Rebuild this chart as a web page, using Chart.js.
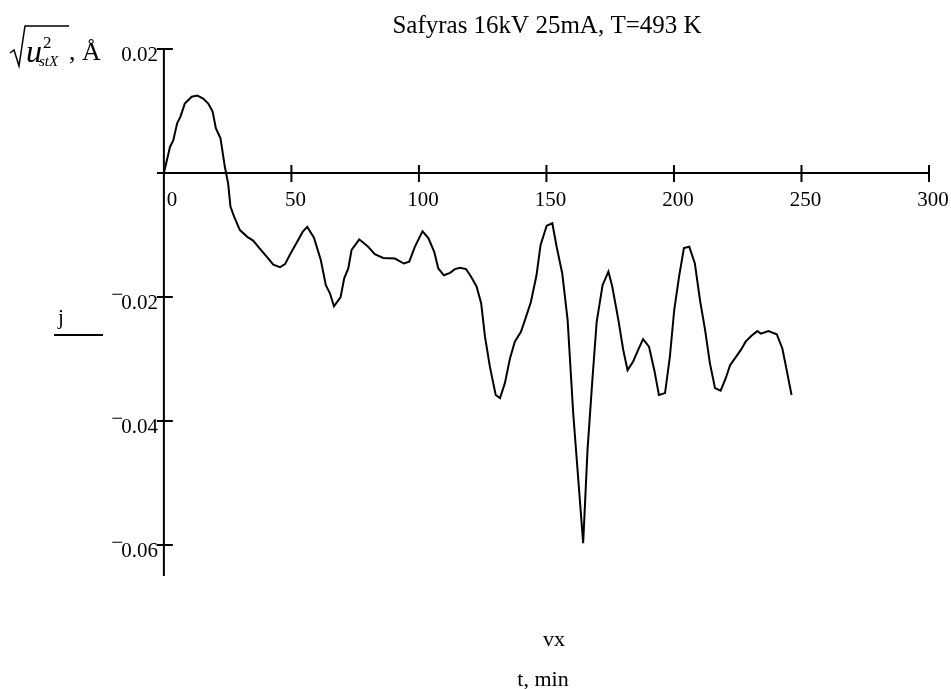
<!DOCTYPE html>
<html>
<head>
<meta charset="utf-8">
<script src="https://cdn.jsdelivr.net/npm/chart.js@4.4.0/dist/chart.umd.min.js"></script>
<style>
html,body{margin:0;padding:0;background:#fff;}
#wrap{width:951px;height:689px;position:relative;}
</style>
</head>
<body>
<div id="wrap"><canvas id="c"></canvas></div>
<script>
// ---- data ----
const timeMin = [0, 2.4, 3.7, 5.2, 6.5, 8.2, 10.9, 13.1, 15.4, 17.4, 19.1, 20.4, 22.2, 23.9, 25.2, 26.1, 27.5, 29.8, 32.7, 35.0, 37.6, 40.3, 42.9, 45.5, 47.5, 49.4, 52.0, 54.4, 56.2, 58.8, 61.5, 63.5, 65.1, 66.7, 69.3, 70.7, 72.3, 73.6, 76.6, 80.1, 82.7, 86.0, 90.6, 94.1, 96.2, 98.4, 101.4, 103.7, 106.0, 107.6, 109.8, 112.2, 114.1, 116.1, 118.5, 120.4, 122.6, 124.4, 125.9, 127.8, 130.1, 131.8, 133.7, 135.7, 137.6, 140.0, 141.6, 143.9, 146.1, 147.7, 150.1, 152.3, 154.0, 156.2, 158.3, 160.5, 162.7, 164.4, 166.1, 168.0, 169.7, 172.0, 174.3, 175.8, 178.2, 180.1, 181.8, 184.0, 186.0, 187.9, 190.2, 192.3, 194.1, 196.5, 198.4, 200.1, 202.0, 203.9, 206.0, 208.2, 210.2, 212.2, 214.1, 216.1, 218.3, 220.3, 222.0, 223.9, 226.3, 228.1, 230.5, 232.7, 234.1, 237.0, 240.3, 242.5, 244.2, 246.1];
const rmsU = [0, 0.0042, 0.0053, 0.0080, 0.0091, 0.0112, 0.0123, 0.0125, 0.0120, 0.0112, 0.0099, 0.0072, 0.0056, 0.0010, -0.0017, -0.0054, -0.0070, -0.0092, -0.0103, -0.0109, -0.0122, -0.0135, -0.0148, -0.0152, -0.0147, -0.0132, -0.0113, -0.0095, -0.0087, -0.0104, -0.0140, -0.0181, -0.0194, -0.0215, -0.0200, -0.0170, -0.0154, -0.0124, -0.0107, -0.0119, -0.0131, -0.0137, -0.0138, -0.0146, -0.0143, -0.0119, -0.0094, -0.0105, -0.0127, -0.0154, -0.0165, -0.0161, -0.0155, -0.0153, -0.0155, -0.0167, -0.0183, -0.0210, -0.0264, -0.0312, -0.0358, -0.0363, -0.0339, -0.0299, -0.0272, -0.0256, -0.0237, -0.0208, -0.0165, -0.0116, -0.0085, -0.0081, -0.0119, -0.0162, -0.0237, -0.0388, -0.0506, -0.0597, -0.0447, -0.0334, -0.0240, -0.0181, -0.0159, -0.0183, -0.0237, -0.0285, -0.0318, -0.0304, -0.0285, -0.0268, -0.0280, -0.0318, -0.0358, -0.0355, -0.0296, -0.0221, -0.0167, -0.0121, -0.0119, -0.0146, -0.0205, -0.0253, -0.0307, -0.0347, -0.0351, -0.0331, -0.0310, -0.0299, -0.0285, -0.0272, -0.0262, -0.0255, -0.0259, -0.0255, -0.0260, -0.0283, -0.0318, -0.0358];
const xTicks = [0, 50, 100, 150, 200, 250, 300];
const yTicks = [0.02, -0.02, -0.04, -0.06];
const yTickLabels = ['0.02', '−0.02', '−0.04', '−0.06'];
const titleText = 'Safyras 16kV 25mA, T=493 K';

const SERIF = '"Liberation Serif", "Times New Roman", serif';

const axesPlugin = {
  id: 'mathcadAxes',
  beforeDatasetsDraw(chart) {
    const {ctx, scales: {x, y}} = chart;
    const x0 = x.getPixelForValue(0), y0 = y.getPixelForValue(0);
    ctx.save();
    ctx.strokeStyle = '#000';
    ctx.lineWidth = 2;
    ctx.beginPath();
    ctx.moveTo(x.left, y0); ctx.lineTo(x.getPixelForValue(300), y0);
    ctx.moveTo(x0, y.top); ctx.lineTo(x0, y.bottom);
    xTicks.forEach(v => { const px = x.getPixelForValue(v); ctx.moveTo(px, y0 - 8); ctx.lineTo(px, y0 + 9); });
    yTicks.forEach(v => { const py = y.getPixelForValue(v); ctx.moveTo(x0 - 7, py); ctx.lineTo(x0 + 9, py); });
    ctx.stroke();
    ctx.restore();
  },
  afterDraw(chart) {
    const {ctx, scales: {x, y}} = chart;
    const x0 = x.getPixelForValue(0), y0 = y.getPixelForValue(0);
    ctx.save();
    ctx.fillStyle = '#000';
    ctx.textBaseline = 'alphabetic';
    // x tick labels
    ctx.font = '21px ' + SERIF;
    ctx.textAlign = 'center';
    xTicks.forEach(v => { ctx.fillText(String(v), x.getPixelForValue(v) + (v === 0 ? 8 : 4), y0 + 33); });
    // y tick labels
    yTicks.forEach((v, i) => {
      const py = y.getPixelForValue(v);
      const lab = yTickLabels[i];
      ctx.textAlign = 'right';
      if (lab.startsWith('−')) {
        const num = lab.slice(1);
        ctx.fillText(num, x0 - 6, py + 12);
        const w = ctx.measureText(num).width;
        ctx.fillText('−', x0 - 4 - w, py + 4);
      } else {
        ctx.fillText(lab, x0 - 6, py + 12);
      }
    });
    // title
    ctx.textAlign = 'center';
    ctx.font = '25px ' + SERIF;
    ctx.fillText(titleText, 547, 33);
    // x axis labels
    ctx.font = '22px ' + SERIF;
    ctx.fillText('vx', 554, 646);
    ctx.fillText('t, min', 543, 686);
    // j label with underline
    ctx.textAlign = 'left';
    ctx.font = '21px ' + SERIF;
    ctx.fillText('j', 58, 324);
    ctx.lineWidth = 2;
    ctx.beginPath(); ctx.moveTo(54, 335); ctx.lineTo(103, 335); ctx.stroke();
    // y label: sqrt(u^2_stX), Å
    ctx.lineWidth = 1.5;
    ctx.beginPath();
    ctx.moveTo(10, 53); ctx.lineTo(14, 50); ctx.lineTo(19, 66); ctx.lineTo(25, 26); ctx.lineTo(69, 26);
    ctx.stroke();
    ctx.font = 'italic 32px ' + SERIF;
    ctx.fillText('u', 26, 62);
    ctx.font = '17px ' + SERIF;
    ctx.fillText('2', 43, 48);
    ctx.font = 'italic 15px ' + SERIF;
    ctx.fillText('stX', 39, 66);
    ctx.font = '26px ' + SERIF;
    ctx.fillText(', Å', 69, 60);
    ctx.restore();
  }
};

new Chart(document.getElementById('c'), {
  type: 'line',
  data: {
    datasets: [{
      data: timeMin.map((t, i) => ({x: t, y: rmsU[i]})),
      borderColor: '#000',
      borderWidth: 2,
      pointRadius: 0,
      tension: 0,
      fill: false
    }]
  },
  options: {
    responsive: true,
    maintainAspectRatio: false,
    animation: false,
    layout: {padding: {left: 157, right: 22, top: 49, bottom: 113}},
    plugins: {legend: {display: false}, tooltip: {enabled: false}, title: {display: false}},
    scales: {
      x: {type: 'linear', min: -2.7, max: 300, display: false},
      y: {type: 'linear', min: -0.065, max: 0.02, display: false}
    }
  },
  plugins: [axesPlugin]
});
</script>
</body>
</html>
